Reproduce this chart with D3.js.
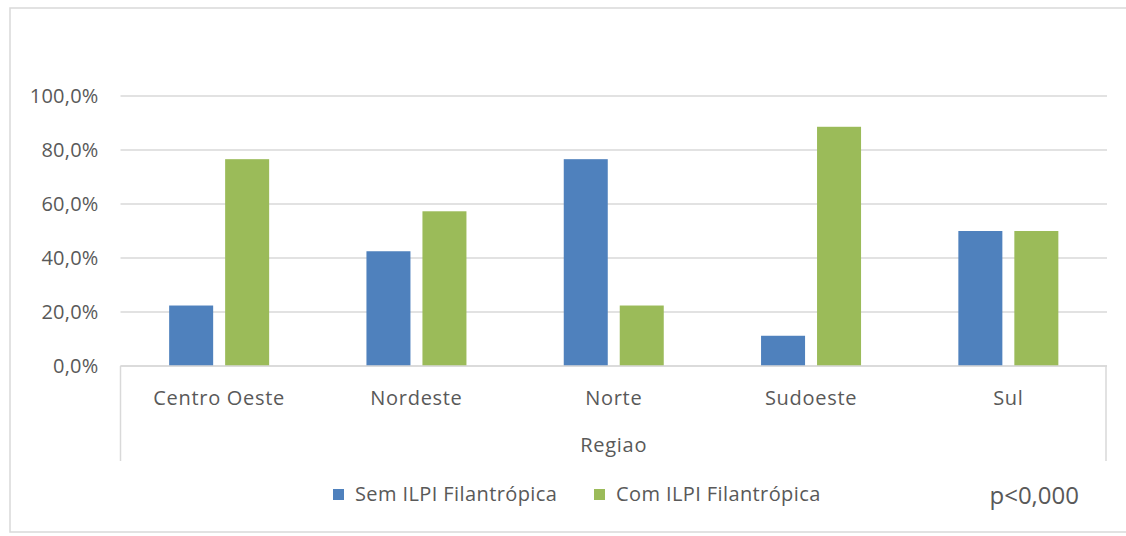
<!DOCTYPE html>
<html><head><meta charset="utf-8">
<script src="https://cdn.jsdelivr.net/npm/d3@7"></script>
<style>
html,body{margin:0;padding:0;background:#fff;}
svg text{font-family:"Open Sans",sans-serif;fill:#595959;}
</style></head>
<body>
<svg id="chart" width="1126" height="536"></svg>
<script>
const categories = ["Centro Oeste", "Nordeste", "Norte", "Sudoeste", "Sul"];
const seriesNames = ["Sem ILPI Filantrópica", "Com ILPI Filantrópica"];
const semValues = [22.4, 42.5, 76.6, 11.2, 50.0];
const comValues = [76.6, 57.3, 22.4, 88.6, 50.0];
const yTicks = [0, 20, 40, 60, 80, 100];
const axisTitle = "Regiao";
const note = "p<0,000";
const colors = ["#4f81bd", "#9bbb59"];

const svg = d3.select("#chart");
const m = {left: 120.5, right: 1107, top: 96, bottom: 366};

// chart border
svg.append("rect").attr("x", 10).attr("y", 8).attr("width", 1130).attr("height", 524)
  .attr("fill", "none").attr("stroke", "#d9d9d9").attr("stroke-width", 1.5);

const x = d3.scaleBand().domain(categories).range([m.left, m.right]);
const y = d3.scaleLinear().domain([0, 100]).range([m.bottom, m.top]);
const inner = d3.scaleBand().domain(seriesNames).range([0, 100]).paddingInner(0.214);

// gridlines
svg.append("g").selectAll("line").data(yTicks).join("line")
  .attr("x1", m.left).attr("x2", m.right)
  .attr("y1", d => y(d)).attr("y2", d => y(d))
  .attr("stroke", "#d9d9d9").attr("stroke-width", 1.5);

// y axis labels
const yAxis = d3.axisLeft(y).tickValues(yTicks).tickSize(0).tickPadding(22)
  .tickFormat(d => d3.format(".1f")(d).replace(".", ",") + "%");
const gy = svg.append("g").attr("transform", `translate(${m.left},0)`).call(yAxis);
gy.select(".domain").remove();
gy.selectAll("text").style("font-size", "20px").style("letter-spacing", "0.2px")
  .style("font-family", "'Open Sans',sans-serif").attr("fill", "#595959");

// bars
const data = categories.map((c, i) => ({c, vals: [semValues[i], comValues[i]]}));
const groups = svg.append("g").selectAll("g").data(data).join("g")
  .attr("transform", d => `translate(${x(d.c) + x.bandwidth() / 2 - 50},0)`);
groups.selectAll("rect").data(d => d.vals.map((v, j) => ({v, s: seriesNames[j], j}))).join("rect")
  .attr("x", d => inner(d.s)).attr("width", inner.bandwidth())
  .attr("y", d => y(d.v)).attr("height", d => y(0) - y(d.v))
  .attr("fill", d => colors[d.j]);

// category axis box
const axisColor = "#d9d9d9";
svg.append("line").attr("x1", m.left).attr("x2", m.right).attr("y1", m.bottom).attr("y2", m.bottom)
  .attr("stroke", axisColor).attr("stroke-width", 1.5);
svg.append("line").attr("x1", m.left).attr("x2", m.left).attr("y1", m.bottom).attr("y2", 461)
  .attr("stroke", axisColor).attr("stroke-width", 1.5);
svg.append("line").attr("x1", m.right - 1).attr("x2", m.right - 1).attr("y1", m.bottom).attr("y2", 461)
  .attr("stroke", axisColor).attr("stroke-width", 1.5);

svg.append("g").selectAll("text").data(categories).join("text")
  .attr("x", d => x(d) + x.bandwidth() / 2).attr("y", 405)
  .attr("text-anchor", "middle").style("font-size", "20px").style("letter-spacing", "0.7px").text(d => d);

svg.append("text").attr("x", (m.left + m.right) / 2).attr("y", 452)
  .attr("text-anchor", "middle").style("font-size", "20px").style("letter-spacing", "0.7px").text(axisTitle);

// legend
const legendX = [333, 594];
const lg = svg.append("g").selectAll("g").data(seriesNames).join("g")
  .attr("transform", (d, i) => `translate(${legendX[i]},489)`);
lg.append("rect").attr("width", 11).attr("height", 11).attr("fill", (d, i) => colors[i]);
lg.append("text").attr("x", 22).attr("y", 12).style("font-size", "20px").style("letter-spacing", "0.4px").text(d => d);

svg.append("text").attr("x", 1079).attr("y", 504).attr("text-anchor", "end")
  .style("font-size", "24px").text(note);
</script>
</body></html>
